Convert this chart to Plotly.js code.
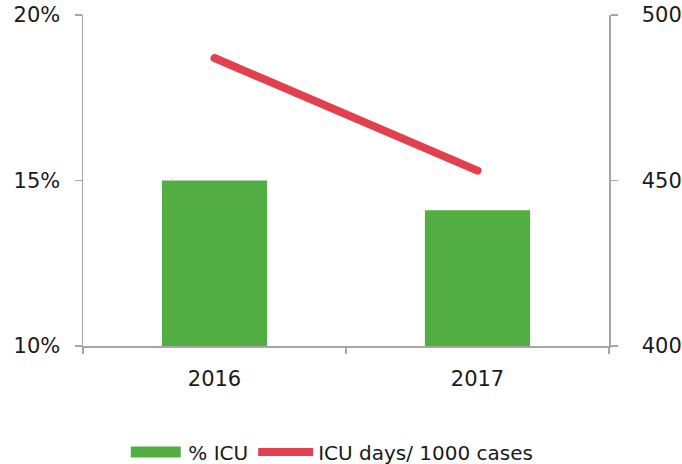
<!DOCTYPE html>
<html>
<head>
<meta charset="utf-8">
<script src="https://cdn.plot.ly/plotly-3.0.1.min.js"></script>
<style>
html, body { margin: 0; padding: 0; background: #fff; }
#chart { width: 682px; height: 464px; }
.scatterlayer .js-line { stroke-linecap: round; }
</style>
</head>
<body>
<div id="chart"></div>
<script>
const years = ["2016", "2017"];
const pctICU = [0.150, 0.141];
const icuDaysPer1000 = [487, 453];
const seriesNames = ["% ICU", "ICU days/ 1000 cases"];

const axisColor = "#a6a6a6";
const fontFamily = "DejaVu Sans, Verdana, sans-serif";

const traces = [
  {
    type: "bar",
    x: years,
    y: pctICU,
    name: seriesNames[0],
    marker: { color: "#52ae42" },
    yaxis: "y",
    hoverinfo: "skip"
  },
  {
    type: "scatter",
    mode: "lines",
    x: years,
    y: icuDaysPer1000,
    name: seriesNames[1],
    line: { color: "#e2404f", width: 8 },
    yaxis: "y2",
    hoverinfo: "skip"
  }
];

const layout = {
  width: 682,
  height: 464,
  margin: { l: 83, r: 73, t: 15, b: 118 },
  paper_bgcolor: "#ffffff",
  plot_bgcolor: "#ffffff",
  font: { family: fontFamily, size: 21, color: "#1a1a1a" },
  bargap: 0.6,
  showlegend: true,
  legend: {
    orientation: "h",
    x: 0.485,
    xanchor: "center",
    xref: "container",
    y: 0.026,
    yref: "container",
    yanchor: "middle",
    itemwidth: 55,
    font: { family: fontFamily, size: 20, color: "#1a1a1a" },
    traceorder: "normal"
  },
  xaxis: {
    type: "category",
    range: [-0.5, 1.5],
    showline: true,
    linecolor: axisColor,
    linewidth: 1.5,
    ticks: "outside",
    tickson: "boundaries",
    ticklen: 6,
    tickcolor: axisColor,
    tickwidth: 1.5,
    showgrid: false,
    zeroline: false,
    ticklabelstandoff: 13
  },
  yaxis: {
    range: [0.10, 0.20],
    tickvals: [0.10, 0.15, 0.20],
    tickformat: ".0%",
    showline: true,
    linecolor: axisColor,
    linewidth: 1.5,
    ticks: "outside",
    ticklen: 7,
    tickcolor: axisColor,
    tickwidth: 1.5,
    showgrid: false,
    zeroline: false,
    ticklabelstandoff: 10
  },
  yaxis2: {
    range: [400, 500],
    tickvals: [400, 450, 500],
    overlaying: "y",
    side: "right",
    showline: true,
    linecolor: axisColor,
    linewidth: 1.5,
    ticks: "outside",
    ticklen: 7,
    tickcolor: axisColor,
    tickwidth: 1.5,
    showgrid: false,
    zeroline: false,
    ticklabelstandoff: 20
  }
};

Plotly.newPlot("chart", traces, layout, { displayModeBar: false, staticPlot: true }).then(function (gd) {
  // widen the bar legend swatch into a long rectangle like the reference
  const firstItem = gd.querySelector(".legend .traces");
  if (!firstItem) return;
  firstItem.querySelectorAll(".legendpoints path").forEach(function (p) {
    const d = p.getAttribute("d");
    if (d && d.length > 0) {
      p.setAttribute("d", "M25,5.5H-25V-5.5H25Z");
    }
  });
});
</script>
</body>
</html>
